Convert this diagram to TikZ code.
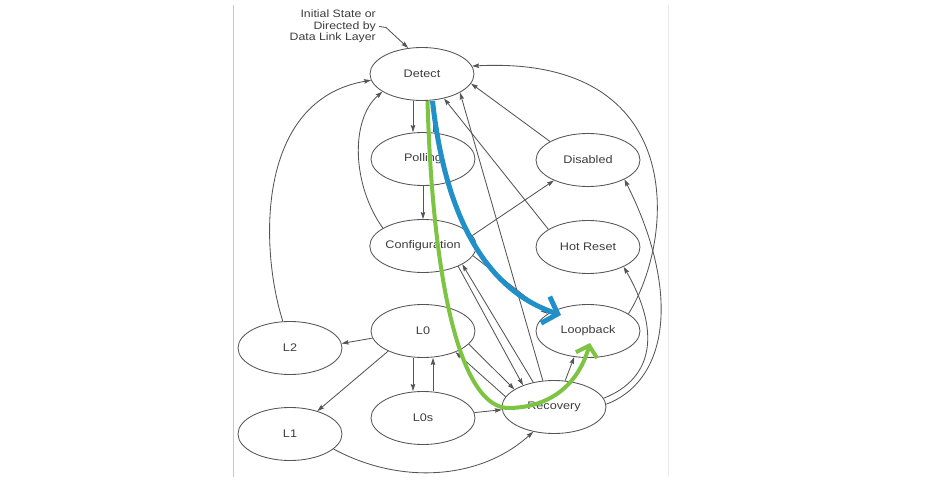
\documentclass[tikz,border=0pt]{standalone}
\usepackage{fontspec}
\setmainfont[FakeStretch=1.15]{Liberation Sans}
\usetikzlibrary{arrows.meta,shapes.geometric}
\definecolor{edge}{HTML}{555555}
\definecolor{txt}{HTML}{3C3C3C}
\definecolor{bluep}{HTML}{2290C8}
\definecolor{greenp}{HTML}{7DC443}
\begin{document}
\begin{tikzpicture}[x=1pt,y=-1pt,
  state/.style={ellipse, draw=edge, line width=0.85pt, minimum width=104pt, minimum height=53pt,
    inner sep=0pt, text=txt, font=\fontsize{11}{12}\selectfont},
  arr/.style={draw=edge, line width=0.85pt, -{Stealth[length=7pt,width=4.5pt,inset=1pt]}},
  frameline/.style={draw=black!22, line width=0.8pt},
  bluepath/.style={draw=bluep, line width=5pt, -{Straight Barb[length=13pt,width=28pt]}},
  greenpath/.style={draw=greenp, line width=4pt, -{Straight Barb[length=10pt,width=22pt]}}
]
\useasboundingbox (0,0) rectangle (933,486);
\draw[frameline] (233,5) -- (233,477);
\draw[draw=black!8, line width=0.8pt] (668,5) -- (668,477);

\node[state] (Detect) at (422,74) {Detect};
\node[state] (Polling) at (423,159) {Polling};
\node[state] (Config) at (423,246) {Configuration};
\node[state] (L0) at (423,331) {L0};
\node[state] (L0s) at (423,418) {L0s};
\node[state] (Disabled) at (588,160) {Disabled};
\node[state] (HotReset) at (588,247) {Hot Reset};
\node[state] (Loopback) at (588,331) {Loopback};
\node[state] (Recovery) at (554,407) {Recovery};
\node[state] (L2) at (290,348) {L2};
\node[state] (L1) at (290,434) {L1};

\node[anchor=east, align=right, text=txt, inner sep=0pt,
  font=\fontsize{10.7}{11.5}\selectfont] (init) at (376,26.5)
  {Initial State or\\Directed by\\Data Link Layer};

\coordinate (xa) at (413,0);
\coordinate (xb) at (433,0);
\coordinate (gmid) at (510,408);

\draw[arr] ([xshift=3pt]init.east) -- ++(7,1) -- (Detect.118);
\draw[arr] (Detect.south -| xa) -- (Polling.north -| xa);
\draw[arr] (Polling.north -| xb) -- (Detect.south -| xb);
\draw[arr] (Polling.south) -- (Config.north);
\draw[arr] (Config.156) .. controls (352,185) and (350,120) .. (Detect.204);
\draw[arr] (L2.105) .. controls (260,250) and (255,100) .. (Detect.187);
\draw[arr] (Disabled.154) -- (Detect.-11);
\draw[arr] (HotReset.156) -- (Detect.-48);
\draw[arr] (Recovery.113) -- (Detect.-26);
\draw[arr] (Loopback.23) .. controls (675,240) and (690,55) .. (Detect.9);
\draw[arr] (Config.12) -- (Disabled.211);
\draw[arr] (Config.-11) -- (Loopback.157);
\draw[arr] (Config.-30) -- (Recovery.145);
\draw[arr] (Recovery.130) -- (Config.-25);
\draw[arr] (L0.-16) -- (Recovery.156);
\draw[arr] (Recovery.168) -- (L0.-33);
\draw[arr] (L0.188) -- (L2.5);
\draw[arr] (L0.210) -- (L1.40);
\draw[arr] (L0.south -| xa) -- (L0s.north -| xa);
\draw[arr] (L0s.north -| xb) -- (L0.south -| xb);
\draw[arr] (L0s.6) -- (Recovery.183);
\draw[arr] (L1.-19) .. controls (400,485) and (480,480) .. (Recovery.230);
\draw[arr] (Recovery.67) -- (Loopback.242);
\draw[arr] (Recovery.10) .. controls (655,378) and (660,330) .. (HotReset.-29);
\draw[arr] (Recovery.3) .. controls (670,380) and (680,290) .. (Disabled.-28);

\draw[bluepath] ([shift={(10.5,27)}]Detect.center) .. controls (445,215) and (485,290) .. ([shift={(-27,-16)}]Loopback.center);
\draw[greenpath] ([shift={(5.5,27)}]Detect.center) .. controls (433,290) and (462,410) .. (gmid)
  .. controls (550,407) and (578,385) .. ([shift={(2,12)}]Loopback.center);
\end{tikzpicture}
\end{document}
